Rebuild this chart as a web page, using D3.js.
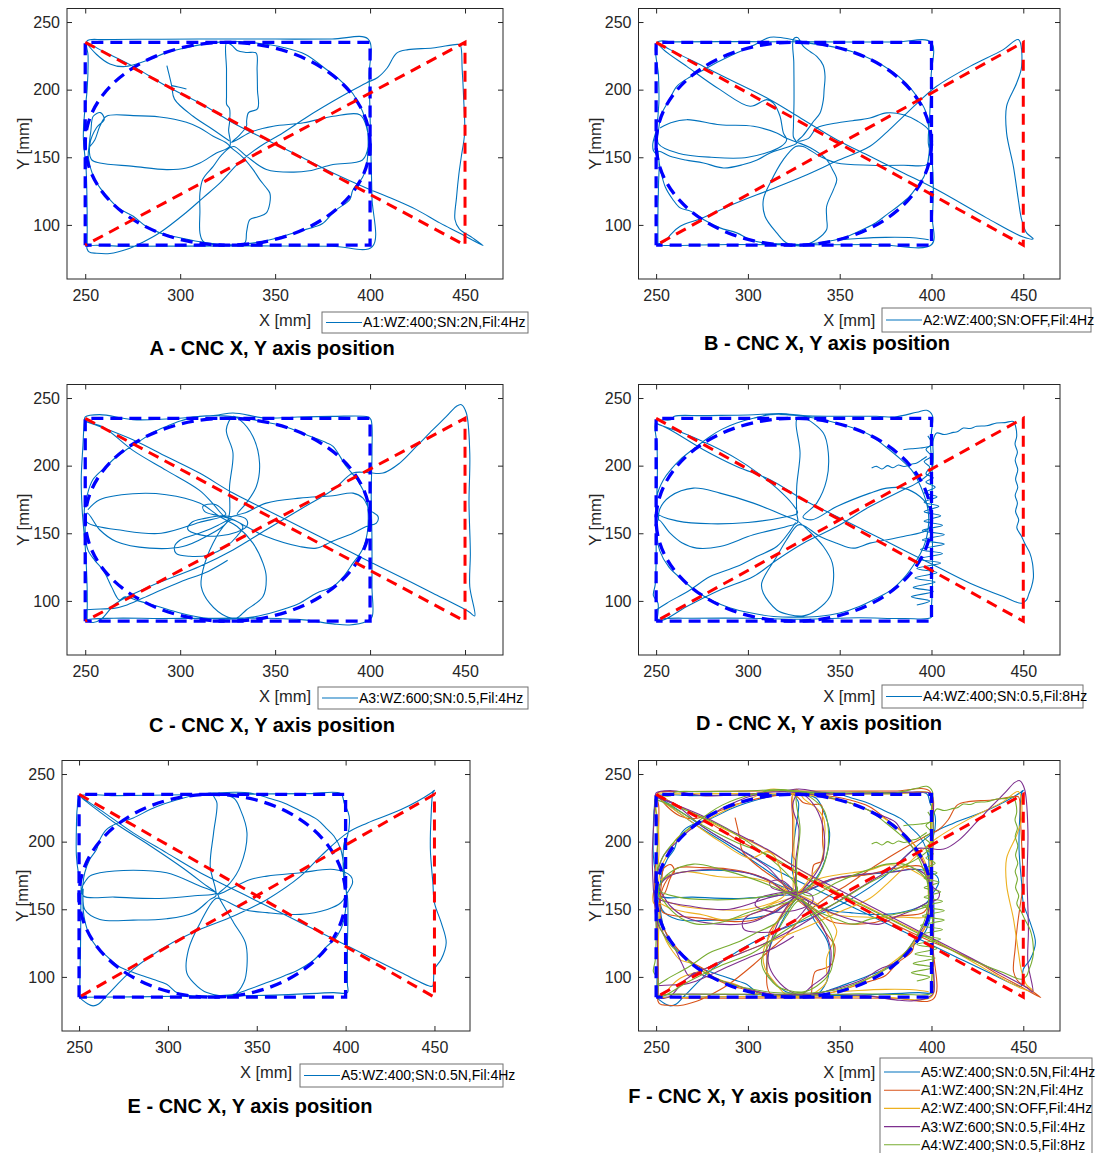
<!doctype html>
<html lang="en">
<head>
<meta charset="utf-8">
<title>CNC X, Y axis position</title>
<script src="https://d3js.org/d3.v7.min.js"></script>
<style>
  body { margin: 0; background: #fff; }
  svg { display: block; font-family: "Liberation Sans", Arial, sans-serif; }
</style>
</head>
<body>
<script>

// ---- data ----
var xTicks = [250, 300, 350, 400, 450];
var yTicks = [100, 150, 200, 250];

// programmed reference path
var refRect = [[250,85],[250,235],[400,235],[400,85],[250,85]];
var refTri  = [[250,235],[450,85],[450,235],[250,85]];
var refEllipse = [325, 160, 75, 75];   // cx, cy, rx, ry

var runLabels = {
  A1: "A1:WZ:400;SN:2N,Fil:4Hz",
  A2: "A2:WZ:400;SN:OFF,Fil:4Hz",
  A3: "A3:WZ:600;SN:0.5,Fil:4Hz",
  A4: "A4:WZ:400;SN:0.5,Fil:8Hz",
  A5: "A5:WZ:400;SN:0.5N,Fil:4Hz"
};

var runA1 = [
  [[251,84],[251,110],[250.5,140],[249,165],[249.5,180],[251,200],[251.5,225],[251,236],[260,237],[290,237.3],[320,237.5],[350,237.4],[380,237.4],[399,237.4],[399.5,210],[400,180],[400.5,150],[401,120],[401.2,84],[380,84.2],[340,84.5],[300,84.3],[270,84.2],[251,84],
   [252,80],[256,79],[263,78.8],[272,82],[280,87],[289,94],[303,109],[312,120],[321,131],[331,146],[342,158],[354,168],[367,180],[380,191],[390,199],[398,205],[404,209],[409,216],[414,227],[420,229.6],[433,230.8],[446,233.5],
   [447.5,233],[448.5,215],[449.3,193],[449.8,168],[448,150],[446.8,138],[445.5,120],[444.7,104],[447,97],[454,90.4],[459.5,84.7],
   [447,94],[436.7,101.5],[424.4,111.3],[408.6,121.2],[398,127.3],[380.5,138.4],[363,150.7],[345.4,163],[327.9,175.4],[310.4,190.1],[292.8,202.5],[275.3,217.2],[257.7,229.6],[251,234.5],
   [256,226],[263,219],[270,217],[277,219],[285,223],[292,227],[300,230],[312,233.5],[325,235.5],[340,234.5],[355,231],[366,226],[376,216],[385,206],[391,197],[396,184],[398.5,172],[399,160],[398,143],[396,135],[391,126],[389.3,118.7],[383,112],[380.5,108.9],[375,101],[371.8,99],[362,95],[350,90],[338,86.5],[325,85.2],[310.4,87.5],[298,91],[289.3,94.1],[282,99],[275.3,106.4],[268,112],[263,118.7],[258,127],[254.2,136],[251.6,150.7],[252,158],[253,170],[254.2,180.3],[258,183],[260,178],[256,172],[252.5,160],
   [253.3,148.3],[257.7,145.8],[275.3,143.3],[292.8,140.9],[303.3,142.1],[310.4,145.8],[319.1,153.2],[326.1,158.1],
   [325.5,170],[326,176],[326,186],[324.5,189],[324.4,195],[324.4,215],[324.4,234.5],[327,233],[330,229],[335,227.5],[340,227],[340.5,215],[340.7,200],[340.8,186],[336,183],[335,177],[334.9,173],[331,166],[327,161],
   [330,163],[338,169],[349,173],[365,175.5],[380.5,180.3],[394.6,181.5],[398,173],[399,158],[396,148],[380.5,144.6],[368,140],[359.5,139],[345.4,141],[335,150.7],[328,158],
   [322,152],[317.4,143.3],[312,134],[310.4,123.6],[310.4,110],[310.4,94.1],[312,88],[317.4,85.5],[326,85.2],[334,86.7],[335,95],[336.7,103.9],[341,106],[345.4,108.9],[347.2,116],[347.2,123.6],[345,128],[341.9,133.5],[338.4,140.9],[333,150],[327,157],
   [324.4,160.6],[317.4,165.5],[310.4,171.7],[303.3,175.9],[289.3,179.8],[275.3,180.8],[261.2,180.3],[257.7,172.9],[255.1,163],[252.5,158]],
  [[326,162],[317.4,170.4],[306.8,180.3],[297,193],[295.5,203],[294,212],[293,217.7]],
  [[295.5,203],[299,202],[303.3,200.5]]
];

var runA2 = [
  [[251,85.5],[251,110],[251.3,130],[251.2,150],[248.5,155],[248.2,160],[250,170],[251.5,190],[251.3,210],[250.5,235],[260,235.3],[300,235.5],[340,235.3],[380,235.2],[399.8,235],[399.8,210],[399,180],[398.3,160],[400.1,150],[401,125],[400.5,105],[400.1,85.5],[370,85.5],[330,85.3],[290,85.5],[251,85.5],
   [255,88],[258,93],[263.1,99],[275,105],[293.9,116.3],[312,126],[330.2,136],[348,147],[366.5,158.1],[376,169],[384.7,180.3],[393,191],[402.8,202.5],[421,217.2],[439.1,229.6],[447.3,237],
   [449.1,217.2],[446.4,204.9],[440.9,187.7],[440.9,168],[444.6,143.3],[447.3,118.7],[449.1,103.9],[451.8,94.1],[455.4,89.7],[450,91],
   [430,105.2],[402.8,126.1],[384.7,138.4],[366.5,150.7],[348.4,163],[330.2,177.8],[312.1,192.6],[293.9,204.9],[275.8,217.2],[257.6,229.6],[251,234.5],
   [254,229.6],[266.7,217.2],[284.8,200],[301.2,187.7],[310.3,192.6],[313.9,190.1],[317.5,180.3],[319.3,168],[321.1,163],[318,158],[300,150],[280,150],[262,153],[251.3,160],
   [251.5,172],[253,182],[257,192],[261.3,202.5],[268.5,209.4],[275,214],[283,220],[292,226],[302,232],[312.1,238.7],[319.3,238.2],[326,236.5],[335,234],[345,232],[357,228],[368,222],[378,214],[386,205],[392,195],[396.5,185],[398.5,172],[399,160],[398,146],[396,136],[392,128],[388,121],[382,114],[376,108],[369,101],[360,95],[352,90.5],[340,87],[330,85.5],[318,86],[308.4,86.7],[301.2,89.2],[293.9,94.1],[284.8,97.8],[277,103],[269,110],[263.1,112.6],[259,119],[255,128],[252.5,140],[251.3,150],[251.3,154.4],
   [257.6,150.7],[266,148],[275.8,145.8],[286.7,142.1],[297.5,144.6],[305,148],[312.1,153.2],[318,156],[323,158.1],[326.6,160.6],
   [324.8,165],[324.8,172.9],[325.1,190],[325.1,204.9],[325,220],[324.8,237.4],[327,238.5],[330.2,232],[334,228],[337.5,224.6],[341,218],[342,209.9],[341.5,200],[341.1,192.6],[339.3,182.8],[336,177],[333.8,172.9],[330,166],[327,162],
   [333,164],[337.5,171.7],[348.4,175.4],[357,177],[366.5,179.1],[375.6,182.8],[384.7,181.5],[392,177],[398.3,170.4],[399.5,160],[398.5,150],[397.4,144.6],[384.7,144.1],[366.5,144.1],[348.4,145.8],[339.3,150.7],[330,158],
   [326,158],[319.3,148.3],[312.1,131],[308.4,118.7],[309.3,106.4],[315.7,94.1],[321.1,86.7],[330.2,84.7],[337.5,89.2],[342.9,96.6],[342.9,105],[342.9,113.8],[346.6,126.1],[348.4,133.5],[346,141],[342.9,148.3],[334,157],[327,161],
   [321,164],[315.7,168],[303,172.9],[284.8,174.1],[266.7,177.8],[258,175.5],[252.2,171.7]],
  [[398.5,89],[390,90.5],[375,90.8],[360,90],[350,89]]
];

var runA3 = [
  [[251,86],[251,110],[250,140],[248.5,165],[247.9,190],[248.8,215],[249.5,232],[250,236],[257.6,237.7],[275.1,234],[292.7,234.5],[310.2,236.4],[320,237.5],[327.8,238.9],[345.3,235.2],[362,236],[380,236.4],[399,236],[400.5,234],[401,210],[400.6,180],[401,145],[401,110],[401,88],[398,84.7],[389.2,82.2],[380.5,83],[365,86],[345,87.2],[320,87.2],[290,87],[265,87.2],[251,86],
   [254,84],[258,86],[266.3,98.3],[283.9,110.6],[310.2,125.4],[327.8,137.7],[345.3,152.6],[362.9,167.4],[380.5,182.2],[391,194.5],[398,195],[406.8,194.5],[415.6,201.9],[424.4,214.2],[433.1,226.6],[440.2,236.4],[445.4,243.8],[448.1,245.1],[450.7,238.9],[452.5,209.3],[452.1,172.3],[452.8,135.3],[452.5,110.6],[455.1,88.9],
   [452,92],[433.1,105.7],[415.6,118],[398,130.3],[380.5,142.7],[362.9,155],[345.3,167.4],[327.8,179.7],[310.2,194.5],[292.7,206.8],[275.1,219.2],[257.6,229],[250,232.7],
   [259.3,228.6],[275.1,211.3],[292.7,196.5],[310.2,181.7],[317.3,171.8],[324,162],
   [330,163],[335,160],[335,155],[330,151],[320,148],[310,149],[304,153],[306,158],[313,161],[322,163],[327,162],[320,156],[310,150],[300,145],[297,140],[298,135],[305,133],[315,134],[324,140],[330,148],[333,155],[328,160],[320,163],[313,166],[312,170],[318,171.5],[322,168],[324,164],
   [310,158],[290,150],[270,152],[251,158],[249.5,165],
   [251,178],[254,189.6],[261,199.4],[266,206],[271.6,211.8],[278.6,218],[285,224],[292.7,229],[300,233],[310.2,236.4],[320,237],[330,236],[342,233],[355,229],[367,222.5],[377,217],[380.5,214.2],[387.5,199.4],[393,190],[397,180],[398,177.2],[399,165],[398.5,150],[396,138],[391,127.9],[386,118],[380.5,110.6],[371.7,105.7],[362.9,98.3],[350,92],[338,88],[325,86.5],[312,87.5],[300,91],[288,96],[278,100],[271,103],[268,100.7],[266.5,103],[264,110],[259.3,123],[255,130],[251.4,137.7],[250,150],[251,165],
   [257.6,152.6],[266.3,143.9],[283.9,139],[301.4,140.2],[313.7,147.6],[324.3,157.5],
   [326,165],[326,184.6],[327.8,209.3],[324.3,226.6],[327.8,236.4],[331.3,234],[338.3,221.6],[341.8,201.9],[340.1,184.6],[334.8,172.3],[330,164],
   [334,165],[345.3,172.3],[362.9,176],[380.5,177.7],[391,179.7],[396.3,176],[399.8,167.4],[404.2,162.4],[403.3,157.5],[398,155],[391,150.1],[380,144],[371.7,139],[362.9,140.2],[345.3,147.6],[334.8,155],[327,160],
   [324.3,157.5],[317.3,142.7],[312,122.9],[311.1,110.6],[315.5,98.3],[324.3,88.4],[329.5,87.2],[334.8,93.3],[343.6,103.2],[345.3,118],[343.6,127.9],[338.3,142.7],[330,155],
   [320.8,162.4],[310.2,172.3],[292.7,178.5],[275.1,179.2],[257.6,174.8],[251.4,167.4]],
  [[250.5,93.5],[258,94],[265,94.5],[272,97],[285,105],[300,114],[315,122],[325,130]]
];

var runA4 = [
  [[250.5,85.9],[251,98.3],[248.5,104],[249.5,112],[250,130],[250,147.6],[250.3,172.3],[250.7,197],[250.5,215],[250,232.7],[258,234],[260,236.5],[275,237],[300,237.5],[318,238.5],[330,237],[345,236.5],[370,236.5],[380,236],[392,239.5],[397.4,240.9],[400.5,237],[400,225],[399.5,215],[400,205],[400.5,190],[400,170],[400.5,150],[400.5,130],[400.5,110],[400,95],[400,88],[385,87],[360,87.5],[330,86.4],[300,87.2],[270,87.2],[255,87],[250.5,86],
   [254,85.9],[266.7,95.8],[284.8,108.1],[303,118],[315.7,130.3],[330.2,142.7],[348.4,155],[366.5,169.8],[384.7,182.2],[391.9,187.1],[400.1,197],[401,219.2],[402.8,224.1],[407,223],[411.9,224.6],[414,225],[417.3,227.8],[421,227.5],[424.6,229.1],[430,229.5],[435.5,231.5],[440,231.8],[444.6,232.7],
   [446,228],[446.4,221.6],[445.5,216],[446.8,210],[445.6,204],[447,197],[445.8,190],[447,184],[445.6,178],[446.8,172.3],[445.8,166],[447.5,160],[446.5,154],[449.1,147.6],[451,142],[453.6,135.3],[455,128],[455.4,122.9],[455.5,117],[454.5,110.6],[453,105],[451.8,100.7],[449.1,98.3],
   [439.1,103.2],[421,113.1],[402.8,125.4],[384.7,137.7],[366.5,150.1],[348.4,162.4],[330.2,174.8],[312.1,189.6],[293.9,199.4],[275.8,211.8],[257.6,226.6],[250,231.5],
   [252,230],[265,224],[280,215],[294,205],[305,195],[316,183],[324,172],[327,165],[320,162],[300,158],[280,157],[262,159],[250.4,165],
   [250.4,177.2],[254,189.6],[258,197],[263.1,204.4],[270,212],[279.4,221.6],[286,227],[293.9,231.5],[303,235],[312.1,237.7],[322,237.5],[330,236.5],[344,233],[357,228],[366,223],[375,214],[383,205],[389,197],[393,188],[396,178],[398,168],[398.5,158],[397,145],[394,135],[390,126],[385,117],[378,108],[370,102],[361,96],[350,91],[338,88.5],[326,88],[314,88.5],[302,91],[290,95],[281,100],[272,107],[264,116],[257,125],[252,137],[250.5,150],[251.3,160],
   [257.6,150.1],[264,143],[272.1,139],[284.8,140.2],[303,148.9],[321.1,155],[327,158],
   [326.6,165],[326.6,184.6],[328.4,209.3],[326.6,234],[330.2,235.2],[341.1,224.1],[343.8,209.3],[342.9,189.6],[337.5,172.3],[330,162],
   [335,160],[348.4,169.8],[366.5,179.7],[375.6,183.4],[384.7,183.4],[393.7,177.2],[399.2,167.4],[400.1,157.5],[397,152],[384.7,147.6],[366.5,142.7],[357.4,139],[348.4,142.7],[339.3,147.6],[330,156],
   [327,156],[321,145],[315.7,132.8],[307.5,113.1],[308.4,105.7],[315.7,93.3],[322,90],[330.2,88.9],[337.5,93.3],[344.7,103.2],[346.6,115.5],[346,128],[341.1,140.2],[333,152],[327,159],
   [321.1,162.4],[303,172.3],[284.8,179.7],[270.3,183.4],[257.6,177.2],[252,168],[251.3,160]],
  [[250,93.3],[255.8,98.3],[268.5,108.1],[279.4,118],[293.9,125.4],[304.8,132.8],[315.7,140.2],[322,150],[326,158]],
  [[398,222],[400,216],[397,212],[400,207],[396,203],[399,199],[397,194],[401,191],[397,188],[402,184],[396,180],[403,177],[396,173],[404,170],[396,166],[405,163],[396,159],[406,156],[395,152],[407,149],[395,145],[407,142],[394,138],[406,135],[393,131],[405,128],[392,124],[403,121],[391,117],[402,114],[390,110],[401,107],[389,103],[399,100],[392,97]],
  [[367.4,198.2],[370,199.5],[373,197.5],[376,200],[379,198.5],[382,200.5],[385,199.4],[389,201],[392,202],[395,204.5],[397.4,206.8]],
  [[384.7,211.8],[389,212.5],[393.8,213],[399.2,214.2]]
];

var runA5 = [
  [[250.4,85],[250.5,100],[250.8,120],[251,150],[251,170],[249.5,178],[248.5,190],[248.5,210],[249,225],[250.4,233.5],[270,234],[300,234.5],[330,235],[360,235.3],[380,235.5],[397.3,235.5],[399.2,228.6],[402,218.8],[401,204],[399.2,199.1],[399.2,169.6],[401,159.8],[401,120],[401,95],[401,88.4],[393,88.4],[360,86.5],[320,85.9],[280,85.2],[252,85],[250.4,85],
   [255,80],[257.9,78.6],[261,80],[265.4,86],[280.5,105.7],[299.3,122.9],[318.2,135.2],[337,145],[355.8,157.3],[374.7,174.5],[386,189.3],[401,206.5],[412.3,213.8],[431.2,223.7],[448.1,236],[450,238],
   [449.1,236],[448.1,218.8],[447.7,194.2],[449.1,169.6],[450,154.8],[453.8,140.1],[456.6,125.3],[453.8,113],[450,105.7],[449.5,98],[449.1,93.4],
   [448,93],[431.2,103.2],[412.3,115.5],[393.5,127.8],[374.7,140.1],[355.8,152.4],[337,164.7],[318.2,177],[299.3,191.7],[280.5,206.5],[261.7,223.7],[250.4,233.5],
   [271,213],[290,197],[309,180],[321,168],[327,162],[315,160],[295,158],[270,159],[252.3,160],
   [252.3,169.6],[253.2,177],[256,186.8],[259.8,194.2],[261.7,201.5],[265.4,208.9],[271.1,213.4],[280.5,217.5],[289.9,223.7],[298,228],[308.8,232.3],[318,235],[327.6,236],[337,236.5],[346.4,236],[356,232.5],[365.3,228.6],[375,222.5],[384.1,216.3],[389,210],[393.5,204],[397.3,194.2],[399.2,179.4],[400,170],[400.5,160],[400,150],[399,142],[397.3,135.2],[394,128],[389.7,122.9],[385,116],[380.3,110.6],[373,105],[365.3,100.7],[355.8,95.8],[346,91],[337,87.2],[328,86],[318.2,85.5],[310,86.5],[305,88.4],[299.3,94.6],[292,98],[286.2,100.7],[280.5,103.2],[272,108],[265.4,115.5],[260,122],[256,130.2],[253.5,140],[252.3,149.9],[252.3,165],
   [253.2,149.9],[261.7,142.5],[280.5,142],[299.3,143],[314.4,147.5],[323.8,157.3],[327,160],
   [323.8,181.9],[325.7,206.5],[327.6,228.6],[325.7,234.7],[337,232.3],[340.8,223.7],[344.5,206.5],[340.8,181.9],[335.1,169.6],[328,161],
   [332,163],[346.4,172],[355.8,174.5],[374.7,177],[393.5,179.4],[402.9,174.5],[403.9,169.6],[401,162.2],[397.3,154.8],[389.7,149.9],[374.7,146.2],[355.8,147.5],[342.7,149.9],[331,157],
   [327,158],[318.2,140.1],[311.6,120.4],[310.6,103.2],[314.4,95.8],[321.9,88.4],[337,86.5],[342.7,95.8],[344.5,108.1],[343.6,125.3],[337,140.1],[329,158],
   [327.6,161.7],[318.2,167.1],[299.3,177],[280.5,178.9],[261.7,177],[256,174.5],[252.3,168]]
];

var runs = { A1: runA1, A2: runA2, A3: runA3, A4: runA4, A5: runA5 };

// ---- layout ----
var W = 1112, H = 1153;
var single = "#0072BD";
var panels = [
  { tag: "A", runs: ["A1"], box: [67, 8.5, 503, 279],    leg: [322, 312, 206, 21], title: [272, 355],  ylab: 38 },
  { tag: "B", runs: ["A2"], box: [638.5, 8.5, 1060, 279], leg: [882, 308, 209, 24], title: [827, 350],  ylab: 38 },
  { tag: "C", runs: ["A3"], box: [67, 384.5, 503, 655],   leg: [318, 687, 210, 22], title: [272, 732],  ylab: 38 },
  { tag: "D", runs: ["A4"], box: [638.5, 384.5, 1060, 655], leg: [882, 685, 201, 23], title: [819, 730], ylab: 38 },
  { tag: "E", runs: ["A5"], box: [62, 760.5, 470, 1031],  leg: [300, 1064, 203, 23], title: [250, 1113], ylab: 34 },
  { tag: "F", runs: ["A5","A1","A2","A3","A4"], box: [638.5, 760.5, 1060, 1031], leg: [880, 1058, 212, 110], title: [750, 1103], ylab: 38 }
];
var multiColors = { A5: "#0072BD", A1: "#D95319", A2: "#EDB120", A3: "#7E2F8E", A4: "#77AC30" };

var svg = d3.select("body").append("svg")
  .attr("width", W).attr("height", H)
  .style("background", "#fff");

var axisColor = "#262626";

panels.forEach(function (p, pi) {
  var L = p.box[0], T = p.box[1], R = p.box[2], B = p.box[3];
  var x = d3.scaleLinear().domain([240.4, 470]).range([L, R]);
  var y = d3.scaleLinear().domain([60, 260]).range([B, T]);

  var g = svg.append("g");

  g.append("clipPath").attr("id", "clip" + pi)
    .append("rect").attr("x", L).attr("y", T).attr("width", R - L).attr("height", B - T);

  var plot = g.append("g").attr("clip-path", "url(#clip" + pi + ")");

  var smooth = d3.line().x(function (d) { return x(d[0]); }).y(function (d) { return y(d[1]); })
    .curve(d3.curveCatmullRom.alpha(0.5));
  var straight = d3.line().x(function (d) { return x(d[0]); }).y(function (d) { return y(d[1]); });

  // measured trajectories
  p.runs.forEach(function (r) {
    var col = p.runs.length > 1 ? multiColors[r] : single;
    runs[r].forEach(function (seg) {
      plot.append("path").attr("d", smooth(seg))
        .attr("fill", "none").attr("stroke", col)
        .attr("stroke-width", 1.1).attr("stroke-linejoin", "round");
    });
  });

  // reference path
  plot.append("path").attr("d", straight(refRect))
    .attr("fill", "none").attr("stroke", "#0000FF").attr("stroke-width", 3.3)
    .attr("stroke-dasharray", "12,7");
  plot.append("ellipse")
    .attr("cx", x(refEllipse[0])).attr("cy", y(refEllipse[1]))
    .attr("rx", x(refEllipse[0] + refEllipse[2]) - x(refEllipse[0]))
    .attr("ry", y(refEllipse[1] - refEllipse[3]) - y(refEllipse[1]))
    .attr("fill", "none").attr("stroke", "#0000FF").attr("stroke-width", 3.3)
    .attr("stroke-dasharray", "12,7");
  plot.append("path").attr("d", straight(refTri))
    .attr("fill", "none").attr("stroke", "#FF0000").attr("stroke-width", 3)
    .attr("stroke-dasharray", "11,7");

  // axes
  function style(sel) {
    sel.select(".domain").remove();
    sel.selectAll("line").attr("stroke", axisColor);
    sel.selectAll("text").attr("fill", axisColor).attr("font-size", 16)
      .attr("font-family", "Liberation Sans, Arial, sans-serif");
  }
  g.append("g").attr("transform", "translate(0," + B + ")")
    .call(d3.axisBottom(x).tickValues(xTicks).tickSizeInner(-5).tickSizeOuter(0).tickPadding(11))
    .call(style);
  g.append("g").attr("transform", "translate(0," + T + ")")
    .call(d3.axisTop(x).tickValues(xTicks).tickSizeInner(-5).tickSizeOuter(0).tickFormat(""))
    .call(style);
  g.append("g").attr("transform", "translate(" + L + ",0)")
    .call(d3.axisLeft(y).tickValues(yTicks).tickSizeInner(-5).tickSizeOuter(0).tickPadding(7))
    .call(style);
  g.append("g").attr("transform", "translate(" + R + ",0)")
    .call(d3.axisRight(y).tickValues(yTicks).tickSizeInner(-5).tickSizeOuter(0).tickFormat(""))
    .call(style);

  g.append("rect").attr("x", L).attr("y", T).attr("width", R - L).attr("height", B - T)
    .attr("fill", "none").attr("stroke", axisColor).attr("stroke-width", 1);

  // axis labels
  g.append("text").attr("x", (L + R) / 2).attr("y", B + 46.5)
    .attr("text-anchor", "middle").attr("font-size", 16.5).attr("fill", axisColor)
    .text("X [mm]");
  g.append("text")
    .attr("transform", "translate(" + (L - p.ylab) + "," + ((T + B) / 2) + ") rotate(-90)")
    .attr("text-anchor", "middle").attr("font-size", 16.5).attr("fill", axisColor)
    .text("Y [mm]");

  // legend
  var lg = g.append("g");
  lg.append("rect").attr("x", p.leg[0]).attr("y", p.leg[1]).attr("width", p.leg[2]).attr("height", p.leg[3])
    .attr("fill", "#fff").attr("stroke", "#707070").attr("stroke-width", 1);
  p.runs.forEach(function (r, i) {
    var col = p.runs.length > 1 ? multiColors[r] : single;
    var cy = p.runs.length > 1 ? p.leg[1] + 14 + i * 18.2 : p.leg[1] + p.leg[3] / 2;
    lg.append("line").attr("x1", p.leg[0] + 4).attr("x2", p.leg[0] + 40)
      .attr("y1", cy).attr("y2", cy).attr("stroke", col).attr("stroke-width", 1.1);
    lg.append("text").attr("x", p.leg[0] + 41).attr("y", cy).attr("dy", "0.35em")
      .attr("font-size", 14).attr("fill", "#000").text(runLabels[r]);
  });

  // panel title
  g.append("text").attr("x", p.title[0]).attr("y", p.title[1])
    .attr("text-anchor", "middle").attr("font-size", 20).attr("font-weight", "bold")
    .attr("fill", "#000")
    .text(p.tag + " - CNC X, Y axis position");
});

</script>
</body>
</html>
